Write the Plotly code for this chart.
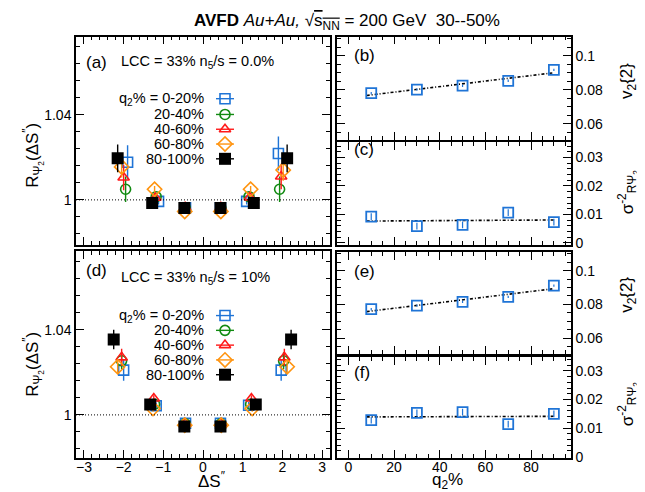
import numpy as np
import plotly.graph_objects as go

W, H = 645, 492
FONT = "Liberation Sans"

# ---------------- legend / series definitions ----------------
series_labels = ["q<sub>2</sub>% = 0-20%", "20-40%", "40-60%", "60-80%", "80-100%"]
series_colors = ["#1f74d6", "#118a11", "#ff1a1a", "#ff9410", "#000000"]
series_symbols = ["square-open", "circle-open", "triangle-up-open", "diamond-open", "square"]
series_sizes = [10, 10, 10, 11, 12]

# ---------------- panel (a): LCC = 33%, n5/s = 0.0% ----------------
a_dS_0_20 = [-1.90, -1.12, -0.44, 0.44, 1.10, 1.90]
a_R_0_20 = [1.0177, 0.9993, 0.9963, 0.9963, 0.9993, 1.0218]
a_err_0_20 = [0.0080, 0.0015, 0.0010, 0.0010, 0.0015, 0.0080]

a_dS_20_40 = [-1.95, -1.18, -0.45, 0.45, 1.16, 1.93]
a_R_20_40 = [1.0050, 1.0015, 0.9963, 0.9963, 1.0015, 1.0050]
a_err_20_40 = [0.0060, 0.0015, 0.0010, 0.0010, 0.0015, 0.0060]

a_dS_40_60 = [-2.00, -1.20, -0.45, 0.45, 1.18, 1.97]
a_R_40_60 = [1.0105, 1.0010, 0.9965, 0.9965, 1.0012, 1.0110]
a_err_40_60 = [0.0060, 0.0015, 0.0010, 0.0010, 0.0015, 0.0060]

a_dS_60_80 = [-2.05, -1.22, -0.46, 0.45, 1.20, 2.02]
a_R_60_80 = [1.0155, 1.0050, 0.9946, 0.9946, 1.0050, 1.0140]
a_err_60_80 = [0.0050, 0.0015, 0.0010, 0.0010, 0.0015, 0.0050]

a_dS_80_100 = [-2.15, -1.28, -0.47, 0.44, 1.28, 2.12]
a_R_80_100 = [1.0195, 0.9985, 0.9962, 0.9962, 0.9985, 1.0195]
a_err_80_100 = [0.0065, 0.0012, 0.0010, 0.0010, 0.0012, 0.0065]

# ---------------- panel (d): LCC = 33%, n5/s = 10% ----------------
d_dS_0_20 = [-2.00, -1.18, -0.44, 0.44, 1.15, 1.97]
d_R_0_20 = [1.0210, 1.0043, 0.9961, 0.9961, 1.0045, 1.0210]
d_err_0_20 = [0.0050, 0.0015, 0.0010, 0.0010, 0.0015, 0.0050]

d_dS_20_40 = [-2.05, -1.22, -0.45, 0.45, 1.20, 2.03]
d_R_20_40 = [1.0254, 1.0050, 0.9958, 0.9958, 1.0050, 1.0254]
d_err_20_40 = [0.0040, 0.0015, 0.0010, 0.0010, 0.0015, 0.0040]

d_dS_40_60 = [-2.05, -1.24, -0.45, 0.45, 1.22, 2.05]
d_R_40_60 = [1.0270, 1.0077, 0.9958, 0.9958, 1.0077, 1.0270]
d_err_40_60 = [0.0040, 0.0015, 0.0010, 0.0010, 0.0015, 0.0040]

d_dS_60_80 = [-2.15, -1.26, -0.46, 0.46, 1.24, 2.12]
d_R_60_80 = [1.0226, 1.0030, 0.9952, 0.9952, 1.0030, 1.0226]
d_err_60_80 = [0.0030, 0.0015, 0.0010, 0.0010, 0.0015, 0.0030]

d_dS_80_100 = [-2.25, -1.33, -0.47, 0.44, 1.33, 2.22]
d_R_80_100 = [1.0354, 1.0049, 0.9946, 0.9946, 1.0049, 1.0354]
d_err_80_100 = [0.0046, 0.0012, 0.0010, 0.0010, 0.0012, 0.0046]

# ---------------- right panels ----------------
q2_pct = [10, 30, 50, 70, 90]
b_v2 = [0.0779, 0.0800, 0.0823, 0.0852, 0.0916]
b_v2_err = [0.0007, 0.0007, 0.0007, 0.0007, 0.0007]
c_sig = [0.0092, 0.0059, 0.0063, 0.0106, 0.0073]
c_sig_err = [0.0012, 0.0012, 0.0012, 0.0012, 0.0012]
e_v2 = [0.0771, 0.0792, 0.0815, 0.0844, 0.0911]
e_v2_err = [0.0007, 0.0007, 0.0007, 0.0007, 0.0007]
f_sig = [0.0128, 0.0153, 0.0156, 0.0114, 0.0150]
f_sig_err = [0.0012, 0.0012, 0.0012, 0.0012, 0.0012]

R_REF = 1.0

# ---------------- helpers ----------------
def px(x):
    return x / W

def py(y):
    return 1 - y / H

# panel frames in pixels: (left, top, right, bottom)
FR = {
    1: (68, 29, 322, 240),   # (a)
    2: (329, 29, 563, 134),  # (b)
    3: (329, 136, 563, 240), # (c)
    4: (68, 247, 322, 456),  # (d)
    5: (329, 248, 563, 351), # (e)
    6: (329, 354, 563, 456), # (f)
}

fig = go.Figure()

def add_series(ax, xs, ys, es, i):
    sym = series_symbols[i]
    filled = not sym.endswith("open")
    fig.add_trace(go.Scatter(
        x=xs, y=ys, mode="markers",
        xaxis="x" + ("" if ax == 1 else str(ax)), yaxis="y" + ("" if ax == 1 else str(ax)),
        marker=dict(symbol=sym, size=series_sizes[i], color=series_colors[i],
                    line=dict(color=series_colors[i], width=0 if filled else 1.6)),
        error_y=dict(type="data", array=es, width=0, thickness=1.4, color=series_colors[i]),
        showlegend=False, hoverinfo="skip"))

a_sets = [(a_dS_0_20, a_R_0_20, a_err_0_20), (a_dS_20_40, a_R_20_40, a_err_20_40),
          (a_dS_40_60, a_R_40_60, a_err_40_60), (a_dS_60_80, a_R_60_80, a_err_60_80),
          (a_dS_80_100, a_R_80_100, a_err_80_100)]
d_sets = [(d_dS_0_20, d_R_0_20, d_err_0_20), (d_dS_20_40, d_R_20_40, d_err_20_40),
          (d_dS_40_60, d_R_40_60, d_err_40_60), (d_dS_60_80, d_R_60_80, d_err_60_80),
          (d_dS_80_100, d_R_80_100, d_err_80_100)]
for i, (xs, ys, es) in enumerate(a_sets):
    add_series(1, xs, ys, es, i)
for i, (xs, ys, es) in enumerate(d_sets):
    add_series(4, xs, ys, es, i)

# right panels: data + linear fit
q2 = np.array(q2_pct, dtype=float)
xfit = np.linspace(q2.min() - 2, q2.max(), 50)
for ax, vals, errs in [(2, b_v2, b_v2_err), (3, c_sig, c_sig_err), (5, e_v2, e_v2_err), (6, f_sig, f_sig_err)]:
    p = np.polyfit(q2, np.array(vals), 1)
    fig.add_trace(go.Scatter(x=xfit, y=np.polyval(p, xfit), mode="lines",
                             xaxis="x%d" % ax, yaxis="y%d" % ax,
                             line=dict(color="black", width=1.6, dash="3px,2px,1px,2px"),
                             showlegend=False, hoverinfo="skip"))
    fig.add_trace(go.Scatter(x=q2_pct, y=vals, mode="markers",
                             xaxis="x%d" % ax, yaxis="y%d" % ax,
                             marker=dict(symbol="square-open", size=10, color=series_colors[0],
                                         line=dict(color=series_colors[0], width=1.8)),
                             error_y=dict(type="data", array=errs, width=0, thickness=1.2,
                                          color=series_colors[0]),
                             showlegend=False, hoverinfo="skip"))

# legend glyphs on a pixel-space overlay axis
LEG_X = 217
leg_rows_a = [92, 108, 123, 138, 153]
leg_rows_d = [312, 327, 342, 357, 372]
for rows in (leg_rows_a, leg_rows_d):
    for i, yy in enumerate(rows):
        sym = series_symbols[i]
        filled = not sym.endswith("open")
        fig.add_trace(go.Scatter(
            x=[LEG_X], y=[yy], mode="markers", xaxis="x7", yaxis="y7",
            marker=dict(symbol=sym, size=series_sizes[i], color=series_colors[i],
                        line=dict(color=series_colors[i], width=0 if filled else 1.6)),
            error_x=dict(type="constant", value=9, width=0, thickness=1.4, color=series_colors[i]),
            showlegend=False, hoverinfo="skip"))
        fig.add_annotation(x=px(198), y=py(yy), xref="paper", yref="paper",
                           text=series_labels[i], showarrow=False, xanchor="right", yanchor="middle",
                           font=dict(family=FONT, size=14.5, color="black"))

# ---------------- axes ----------------
tickfont = dict(family=FONT, size=14, color="black")

def axis(domain, rng, dtick, minor_dtick, anchor, showlabels=True, side=None, tick0=0):
    d = dict(domain=domain, range=rng, dtick=dtick, tick0=tick0, anchor=anchor,
             showline=True, linecolor="black", linewidth=1.5, mirror="allticks",
             ticks="inside", ticklen=8, tickwidth=1, tickcolor="black",
             showgrid=False, zeroline=False, showticklabels=showlabels, tickfont=tickfont,
             minor=dict(dtick=minor_dtick, ticks="inside", ticklen=4, tickwidth=1,
                        tickcolor="black", showgrid=False))
    if side:
        d["side"] = side
    return d

lay = {}
# (a)
l, t, r, b = FR[1]
lay["xaxis"] = axis([px(l), px(r)], [-3.2, 3.2], 1, 0.2, "y", showlabels=False)
lay["yaxis"] = axis([py(b), py(t)], [0.979, 1.0767], 0.04, 0.008, "x", tick0=1)
# (d)
l, t, r, b = FR[4]
lay["xaxis4"] = axis([px(l), px(r)], [-3.2, 3.2], 1, 0.2, "y4")
lay["yaxis4"] = axis([py(b), py(t)], [0.980, 1.0767], 0.04, 0.008, "x4", tick0=1)
# (b)
l, t, r, b = FR[2]
lay["xaxis2"] = axis([px(l), px(r)], [-5, 97.5], 20, 5, "y2", showlabels=False)
lay["yaxis2"] = axis([py(b), py(t)], [0.0503, 0.1112], 0.02, 0.005, "x2", side="right")
# (c)
l, t, r, b = FR[3]
lay["xaxis3"] = axis([px(l), px(r)], [-5, 97.5], 20, 5, "y3", showlabels=False)
lay["yaxis3"] = axis([py(b), py(t)], [-0.0006, 0.0354], 0.01, 0.002, "x3", side="right")
# (e)
l, t, r, b = FR[5]
lay["xaxis5"] = axis([px(l), px(r)], [-5, 97.5], 20, 5, "y5", showlabels=False)
lay["yaxis5"] = axis([py(b), py(t)], [0.0505, 0.1108], 0.02, 0.005, "x5", side="right")
# (f)
l, t, r, b = FR[6]
lay["xaxis6"] = axis([px(l), px(r)], [-5, 97.5], 20, 5, "y6")
lay["yaxis6"] = axis([py(b), py(t)], [-0.0003, 0.0349], 0.01, 0.002, "x6", side="right")
# pixel overlay for legend glyphs
lay["xaxis7"] = dict(domain=[0, 1], range=[0, W], visible=False, anchor="y7", fixedrange=True)
lay["yaxis7"] = dict(domain=[0, 1], range=[H, 0], visible=False, anchor="x7", fixedrange=True)

fig.update_layout(**lay)
for k in ("xaxis4", "xaxis6"):
    try:
        fig.layout[k].ticklabelstandoff = -4
    except Exception:
        fig.layout[k].ticklabelstandoff = 0

# dotted reference line at R = 1
for yr in ("y", "y4"):
    xr = "x" if yr == "y" else "x4"
    fig.add_shape(type="line", xref=xr + " domain", yref=yr, x0=0, x1=1, y0=R_REF, y1=R_REF,
                  line=dict(color="black", width=1, dash="1px,2px"))

# ---------------- text ----------------
def ann(x, y, text, size=14, xanchor="left", angle=0, yanchor="middle"):
    fig.add_annotation(x=px(x), y=py(y), xref="paper", yref="paper", text=text,
                       showarrow=False, xanchor=xanchor, yanchor=yanchor, textangle=angle,
                       font=dict(family=FONT, size=size, color="black"))

ann(339, 14, "<b>AVFD</b> <i>Au+Au,</i> \u221a<span style=\"text-decoration:overline\">s<sub>NN</sub></span> = 200 GeV \u00a030--50%",
    size=17, xanchor="center")
ann(76, 55, "(a)", size=17)
ann(76, 266, "(d)", size=17)
ann(344, 48, "(b)", size=17)
ann(344, 144, "(c)", size=17)
ann(344, 267, "(e)", size=17)
ann(344, 370, "(f)", size=17)
ann(111, 55, "LCC = 33% n<sub>5</sub>/s = 0.0%", size=14.5)
ann(111, 274, "LCC = 33% n<sub>5</sub>/s = 10%", size=14.5)

ann(25, 150, "R<sub>\u03a8<sub>2</sub></sub>(\u0394S<sup>\u2033</sup>)", size=17, xanchor="center", angle=-90)
ann(25, 362, "R<sub>\u03a8<sub>2</sub></sub>(\u0394S<sup>\u2033</sup>)", size=17, xanchor="center", angle=-90)
ann(203, 479, "\u0394S<sup>\u2033</sup>", size=17, xanchor="center")
ann(439, 480, "q<sub>2</sub>%", size=17, xanchor="center")
ann(620, 74, "v<sub>2</sub>{2}", size=17, xanchor="center", angle=-90)
ann(620, 291, "v<sub>2</sub>{2}", size=17, xanchor="center", angle=-90)
ann(620, 187, "\u03c3<sup>-2</sup><sub>R\u03a8<sub>2</sub></sub>", size=17, xanchor="center", angle=-90)
ann(620, 402, "\u03c3<sup>-2</sup><sub>R\u03a8<sub>2</sub></sub>", size=17, xanchor="center", angle=-90)

fig.update_layout(width=W, height=H, margin=dict(l=0, r=0, t=0, b=0),
                  paper_bgcolor="white", plot_bgcolor="rgba(0,0,0,0)",
                  showlegend=False, font=dict(family=FONT, color="black"))

fig.write_html("out.html")
